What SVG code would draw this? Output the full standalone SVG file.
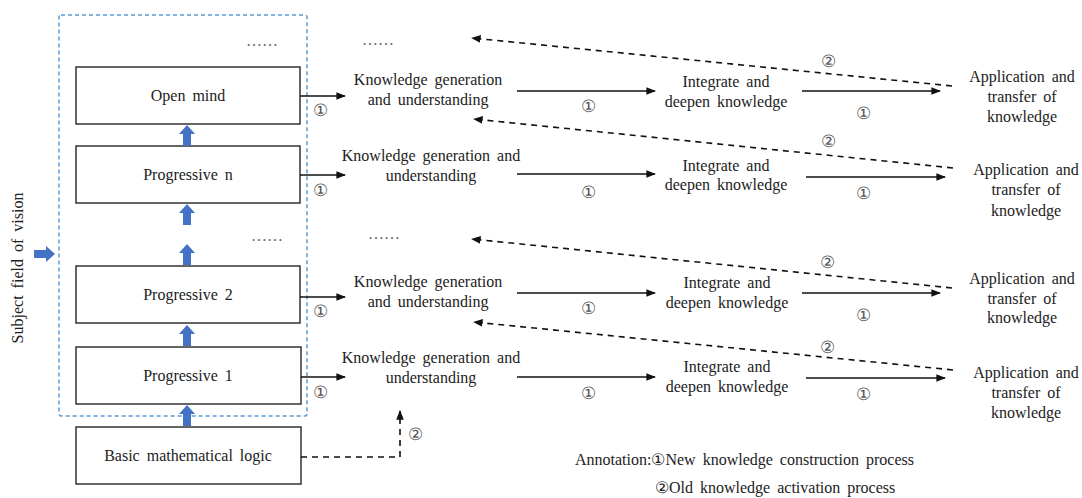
<svg xmlns="http://www.w3.org/2000/svg" width="1082" height="498" viewBox="0 0 1082 498">
<style>
  text { font-size: 16px; fill: #222; word-spacing: 3px; }
  .c { text-anchor: middle; }
  .n { font-size: 17px; fill: #555; text-anchor: middle; word-spacing: 0; }
  .dots { fill: #666; text-anchor: middle; word-spacing: 0; }
  .box { fill: #fff; stroke: #333; stroke-width: 1.5; }
  .solid { stroke: #111; stroke-width: 1.6; fill: none; marker-end: url(#ah); }
  .dash { stroke: #111; stroke-width: 1.6; fill: none; stroke-dasharray: 6 5; marker-end: url(#ah); }
  .blk { fill: #4472C4; }
</style>
<defs>
  <marker id="ah" viewBox="0 0 10 10" refX="9" refY="5" markerWidth="6" markerHeight="6" markerUnits="strokeWidth" orient="auto">
    <path d="M0,1 L10,5 L0,9 z" fill="#111"/>
  </marker>
  <path id="up" d="M0,0 L8,9 L4,9 L4,21 L-4,21 L-4,9 L-8,9 z"/>
</defs>
<g font-family="'Liberation Serif', 'Times New Roman', serif">
<rect x="59" y="15" width="248" height="401" rx="2" fill="none" stroke="#5B9BD5" stroke-width="1.5" stroke-dasharray="4 3"/>

<text transform="translate(23,268) rotate(-90)" class="c">Subject field of vision</text>
<use href="#up" class="blk" transform="translate(55,254) rotate(90)"/>

<g id="n-openmind"><rect class="box" x="76" y="67" width="224" height="57"/><text class="c" x="188" y="101">Open mind</text></g>
<g id="n-progn"><rect class="box" x="76" y="146" width="224" height="57"/><text class="c" x="188" y="180">Progressive n</text></g>
<g id="n-prog2"><rect class="box" x="76" y="266" width="224" height="57"/><text class="c" x="188" y="300">Progressive 2</text></g>
<g id="n-prog1"><rect class="box" x="76" y="347" width="225" height="57"/><text class="c" x="188" y="381">Progressive 1</text></g>
<g id="n-basic"><rect class="box" x="76" y="427" width="225" height="57"/><text class="c" x="188" y="461">Basic mathematical logic</text></g>

<g id="blockarrows">
  <use href="#up" class="blk" transform="translate(187,125)"/>
  <use href="#up" class="blk" transform="translate(187,204)"/>
  <use href="#up" class="blk" transform="translate(187,244)"/>
  <use href="#up" class="blk" transform="translate(187,325)"/>
  <use href="#up" class="blk" transform="translate(187,405)"/>
</g>

<g id="dots">
  <text class="dots" x="262" y="46">……</text>
  <text class="dots" x="378" y="45">……</text>
  <text class="dots" x="267" y="241">……</text>
  <text class="dots" x="384" y="239">……</text>
</g>

<g id="n-k1"><text class="c" x="428" y="85">Knowledge generation</text><text class="c" x="428" y="105">and understanding</text></g>
<g id="n-k2"><text class="c" x="431" y="161">Knowledge generation and</text><text class="c" x="431" y="181">understanding</text></g>
<g id="n-k3"><text class="c" x="428" y="287">Knowledge generation</text><text class="c" x="428" y="307">and understanding</text></g>
<g id="n-k4"><text class="c" x="431" y="363">Knowledge generation and</text><text class="c" x="431" y="383">understanding</text></g>

<g id="n-i1"><text class="c" x="726" y="87">Integrate and</text><text class="c" x="726" y="107">deepen knowledge</text></g>
<g id="n-i2"><text class="c" x="726" y="171">Integrate and</text><text class="c" x="726" y="190">deepen knowledge</text></g>
<g id="n-i3"><text class="c" x="727" y="288">Integrate and</text><text class="c" x="727" y="308">deepen knowledge</text></g>
<g id="n-i4"><text class="c" x="727" y="372">Integrate and</text><text class="c" x="727" y="392">deepen knowledge</text></g>

<g id="n-a1"><text class="c" x="1022" y="82">Application and</text><text class="c" x="1022" y="102">transfer of</text><text class="c" x="1022" y="122">knowledge</text></g>
<g id="n-a2"><text class="c" x="1026" y="175">Application and</text><text class="c" x="1026" y="195">transfer of</text><text class="c" x="1026" y="216">knowledge</text></g>
<g id="n-a3"><text class="c" x="1022" y="284">Application and</text><text class="c" x="1022" y="304">transfer of</text><text class="c" x="1022" y="323">knowledge</text></g>
<g id="n-a4"><text class="c" x="1026" y="378">Application and</text><text class="c" x="1026" y="398">transfer of</text><text class="c" x="1026" y="418">knowledge</text></g>

<g id="connectors">
  <line class="solid" x1="300" y1="96" x2="345" y2="96"/>
  <line class="solid" x1="300" y1="175" x2="345" y2="175"/>
  <line class="solid" x1="300" y1="297" x2="345" y2="297"/>
  <line class="solid" x1="301" y1="377" x2="345" y2="377"/>

  <line class="solid" x1="517" y1="91" x2="655" y2="91"/>
  <line class="solid" x1="517" y1="174" x2="655" y2="174"/>
  <line class="solid" x1="517" y1="293" x2="655" y2="293"/>
  <line class="solid" x1="517" y1="377" x2="655" y2="377"/>

  <line class="solid" x1="802" y1="91" x2="940" y2="91"/>
  <line class="solid" x1="806" y1="177" x2="945" y2="177"/>
  <line class="solid" x1="802" y1="293" x2="940" y2="293"/>
  <line class="solid" x1="806" y1="378" x2="945" y2="378"/>

  <line class="dash" x1="952" y1="86" x2="472" y2="38"/>
  <line class="dash" x1="953" y1="168" x2="474" y2="119"/>
  <line class="dash" x1="952" y1="288" x2="472" y2="239"/>
  <line class="dash" x1="953" y1="370" x2="474" y2="322"/>

  <path class="dash" d="M301,457 H400 V411"/>
</g>

<g id="labels">
  <text class="n" x="320" y="116">①</text>
  <text class="n" x="320" y="196">①</text>
  <text class="n" x="320" y="317">①</text>
  <text class="n" x="320" y="398">①</text>
  <text class="n" x="588" y="112">①</text>
  <text class="n" x="588" y="198">①</text>
  <text class="n" x="588" y="314">①</text>
  <text class="n" x="588" y="399">①</text>
  <text class="n" x="863" y="119">①</text>
  <text class="n" x="863" y="199">①</text>
  <text class="n" x="863" y="321">①</text>
  <text class="n" x="863" y="400">①</text>
  <text class="n" x="828" y="67">②</text>
  <text class="n" x="828" y="147">②</text>
  <text class="n" x="827" y="268">②</text>
  <text class="n" x="827" y="353">②</text>
  <text class="n" x="415" y="440">②</text>
</g>

<g id="annotation">
  <text x="575" y="465">Annotation:①New knowledge construction process</text>
  <text x="655" y="493">②Old knowledge activation process</text>
</g>
</g>
</svg>
